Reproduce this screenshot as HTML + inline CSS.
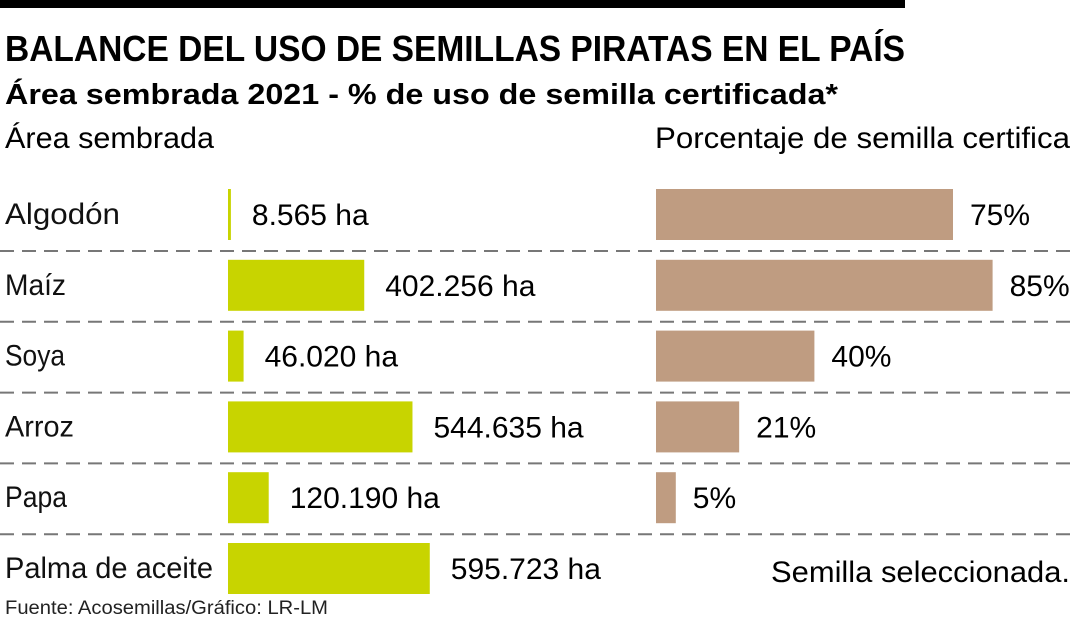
<!DOCTYPE html>
<html><head><meta charset="utf-8"><style>
html,body{margin:0;padding:0;background:#fff;}
svg{display:block;font-family:"Liberation Sans",sans-serif;}
</style></head><body>
<svg id="chart" width="1080" height="620" viewBox="0 0 1080 620" xmlns="http://www.w3.org/2000/svg">
<rect x="0" y="0" width="905" height="8" fill="#000"/>
<text x="5" y="61" font-size="36" font-weight="bold" textLength="900" lengthAdjust="spacingAndGlyphs">BALANCE DEL USO DE SEMILLAS PIRATAS EN EL PAÍS</text>
<text x="5" y="104" font-size="29" font-weight="bold" textLength="833" lengthAdjust="spacingAndGlyphs">Área sembrada 2021 - % de uso de semilla certificada*</text>
<text x="5" y="148" font-size="30" textLength="209" lengthAdjust="spacingAndGlyphs">Área sembrada</text>
<text x="655" y="148" font-size="30" textLength="415" lengthAdjust="spacingAndGlyphs">Porcentaje de semilla certifica</text>
<g id="rows"></g>
<text x="771" y="582" font-size="30" textLength="299" lengthAdjust="spacingAndGlyphs">Semilla seleccionada.</text>
<text x="5" y="614" font-size="19" fill="#222" textLength="323" lengthAdjust="spacingAndGlyphs">Fuente: Acosemillas/Gráfico: LR-LM</text>
</svg>
<script>
const categories = ["Algodón","Maíz","Soya","Arroz","Papa","Palma de aceite"];
const areaValues = [8565, 402256, 46020, 544635, 120190, 595723];
const areaLabels = ["8.565 ha","402.256 ha","46.020 ha","544.635 ha","120.190 ha","595.723 ha"];
const pctValues = [75, 85, 40, 21, 5, null];
const labelWidths = [115, 61, 60, 69, 62, 208];

const NS = "http://www.w3.org/2000/svg";
const g = document.getElementById("rows");
const xArea = v => v / 620000 * 210;
const xPct = v => v / 100 * 396;
const rowTop = i => 189 + i * 70.8;
const barH = 51;

function mk(tag, attrs){ const e = document.createElementNS(NS, tag); for (const k in attrs) e.setAttribute(k, attrs[k]); return e; }

categories.forEach((c, i) => {
  const y = rowTop(i);
  const lab = mk("text", {x:5, y:y+35, "font-size":30, fill:"#111", textLength:labelWidths[i], lengthAdjust:"spacingAndGlyphs"});
  
  
  lab.textContent = c; g.appendChild(lab);

  const w = Math.max(2.5, xArea(areaValues[i]));
  const b = mk("rect", {x:228, y:y, width:w, height:barH, fill:"#c8d400"});
  
  
  g.appendChild(b);
  const vt = mk("text", {x:228 + w + 21, y:y+36, "font-size":30, fill:"#000"});
  
  
  vt.textContent = areaLabels[i]; g.appendChild(vt);

  if (pctValues[i] != null) {
    const pw = xPct(pctValues[i]);
    const pb = mk("rect", {x:656, y:y, width:pw, height:barH, fill:"#bf9c81"});
    
    
    g.appendChild(pb);
    const pt = mk("text", {x:656 + pw + 17, y:y+36, "font-size":30, fill:"#000"});
    
    
    pt.textContent = pctValues[i] + "%"; g.appendChild(pt);
  }

  if (i < categories.length - 1) {
    const ly = y + barH + 11;
    const ln = mk("line", {x1:0, x2:1072, y1:ly, y2:ly, stroke:"#777", "stroke-width":2, "stroke-dasharray":"14 8"});
    
    
    g.appendChild(ln);
  }
});
</script>
</body></html>
